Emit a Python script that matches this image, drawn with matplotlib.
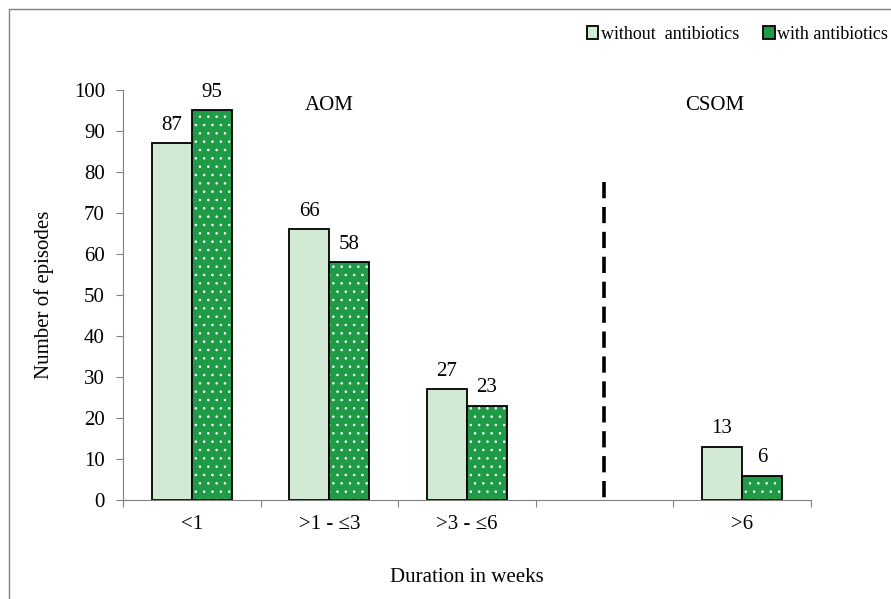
import matplotlib.pyplot as plt
from matplotlib.patches import Patch, Rectangle

# ------------ Data -------------
categories = ["<1", ">1 - \u22643", ">3 - \u22646", "", ">6"]
without_abx = [87, 66, 27, None, 13]
with_abx = [95, 58, 23, None, 6]
yticks = list(range(0, 101, 10))

LIGHT = "#d2ead3"
DARK = "#1f9a47"
FS = 15

plt.rcParams["font.family"] = ["Liberation Serif", "DejaVu Serif"]
plt.rcParams["font.size"] = FS
plt.rcParams["hatch.linewidth"] = 0.6

fig = plt.figure(figsize=(8.91, 5.99), dpi=100)
ax = fig.add_axes([0.138, 0.165, 0.772, 0.685])

# outer chart frame (cropped at right/bottom)
fig.patches.append(Rectangle((9 / 891, -0.05), 1.1, 1 - 9 / 599 + 0.05,
                             transform=fig.transFigure, fill=False,
                             edgecolor="#808080", linewidth=1.0))

w = 0.29
for i, cat in enumerate(categories):
    if without_abx[i] is None:
        continue
    a, b = without_abx[i], with_abx[i]
    ax.bar(i - w / 2, a, width=w, color=LIGHT, edgecolor="black", linewidth=1.3)
    # dotted green bar: hatch drawn in white, outline on top in black
    ax.bar(i + w / 2, b, width=w, color=DARK, edgecolor="white", hatch="..", linewidth=0)
    ax.bar(i + w / 2, b, width=w, fill=False, edgecolor="black", linewidth=1.3)
    ax.text(i - w / 2, a + 4.4, str(a), ha="center", va="center", fontsize=FS)
    ax.text(i + w / 2, b + 4.4, str(b), ha="center", va="center", fontsize=FS)

# AOM / CSOM separator (drawn top-down so the pattern starts with a full dash)
ax.plot([3, 3], [77.5, -1.2], color="black", linewidth=2.6, dashes=(4.5, 2.4),
        clip_on=False)
ax.text(1.0, 96.2, "AOM", ha="center", va="center", fontsize=FS)
ax.text(3.8, 96.2, "CSOM", ha="center", va="center", fontsize=FS)

ax.set_xlim(-0.5, 4.5)
ax.set_ylim(0, 100)
ax.set_yticks(yticks)
ax.tick_params(axis="y", direction="out", length=5, color="#808080", labelsize=FS, pad=8)

ax.set_xticks([i - 0.5 for i in range(6)])
ax.set_xticklabels([])
ax.set_xticks(range(5), minor=True)
ax.set_xticklabels(categories, minor=True)
ax.tick_params(axis="x", which="major", direction="out", length=5, color="#808080")
ax.tick_params(axis="x", which="minor", length=0, labelsize=FS, pad=11)

for s in ["top", "right"]:
    ax.spines[s].set_visible(False)
for s in ["left", "bottom"]:
    ax.spines[s].set_color("#808080")

ax.set_ylabel("Number of episodes", fontsize=FS, labelpad=14)
ax.set_xlabel("Duration in weeks", fontsize=FS, labelpad=24)

handles = [Patch(facecolor=LIGHT, edgecolor="black", linewidth=1.3),
           Patch(facecolor=DARK, edgecolor="black", linewidth=1.3)]
fig.legend(handles, ["without  antibiotics", "with antibiotics"],
           loc="upper right", bbox_to_anchor=(1.015, 0.984), ncol=2, frameon=False,
           handlelength=0.65, handleheight=0.65, handletextpad=0.15,
           columnspacing=1.3, fontsize=13)

fig.savefig("out.png", dpi=100)
